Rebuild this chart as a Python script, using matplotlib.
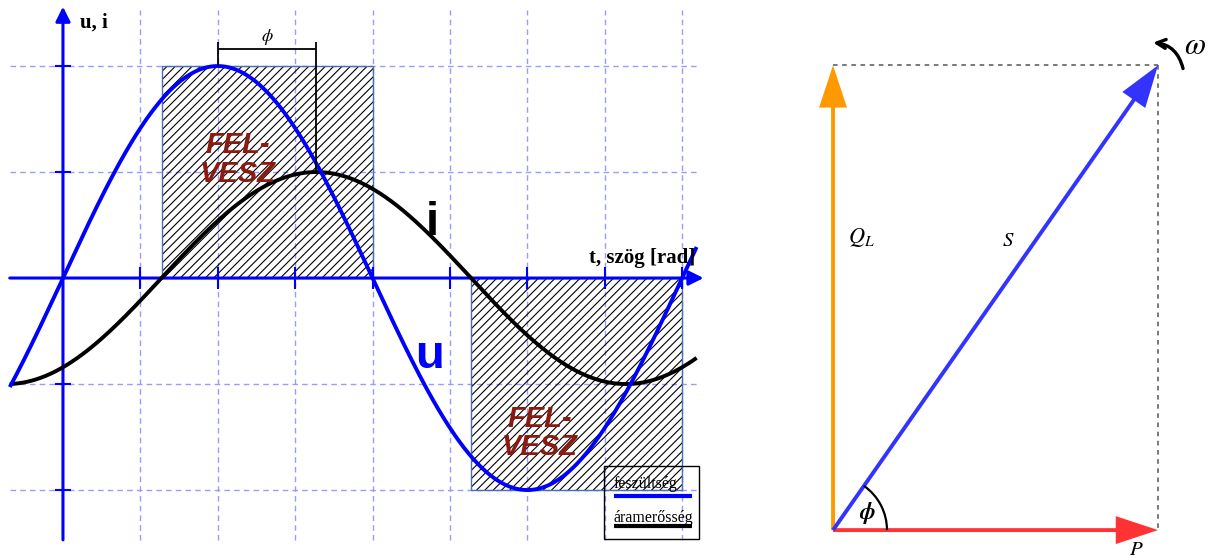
import numpy as np
import matplotlib.pyplot as plt
from matplotlib.patches import Rectangle, Arc

plt.rcParams["mathtext.fontset"] = "stix"
plt.rcParams["hatch.linewidth"] = 0.8

# waveforms: u = U sin(t), i = I sin(t - phi), grid step pi/4 rad
U_AMP = 2.0
I_AMP = 1.0
PHI = 1.0
STEP = np.pi / 4
T_START, T_END = -0.54, 6.43

# power triangle
P = 1.0
Q_L = 1.43

AXIS_LABELS = ["t, szög [rad]", "u, i"]
WAVE_LABELS = ["u", "i"]
LEGEND_LABELS = ["feszültség", "áramerősség"]
REGION_LABEL = ["FEL-", "VESZ"]

AX_BLUE = "#0000ff"
GRID_BLUE = "#9a9aff"
REGION_RED = "#8b1a10"
SERIF = ["Liberation Serif", "DejaVu Serif"]
SANS = ["Liberation Sans", "DejaVu Sans"]

fig = plt.figure(figsize=(12.1, 5.6), dpi=100)

# ---------------- left: time diagram ----------------
ax = fig.add_axes([0, 0, 705 / 1210, 1])
ax.set_xlim(-0.639, 6.515)
ax.set_ylim(-2.660, 2.623)
ax.set_axis_off()

grid_kw = dict(color=GRID_BLUE, lw=1.0, linestyles=(0, (4, 3)), zorder=1)
ax.vlines(np.arange(1, 9) * STEP, -2.47, 2.53, **grid_kw)
ax.hlines([-2 * I_AMP, -I_AMP, I_AMP, 2 * I_AMP], T_START, T_END, **grid_kw)

# hatched regions between the current and voltage zero crossings
for start, h in [(PHI, U_AMP), (np.pi + PHI, -U_AMP)]:
    ax.add_patch(Rectangle((start, 0), np.pi - PHI, h, fill=False, hatch="////",
                           edgecolor="black", lw=0, zorder=2))
    ax.add_patch(Rectangle((start, 0), np.pi - PHI, h, fill=False,
                           edgecolor="#4a6fb5", lw=1.0, zorder=2))

t = np.linspace(T_START, T_END, 800)
u = U_AMP * np.sin(t)
i = I_AMP * np.sin(t - PHI)
ax.plot(t, i, color="black", lw=2.8, zorder=4, solid_capstyle="butt")
ax.plot(t, u, color=AX_BLUE, lw=2.8, zorder=5, solid_capstyle="butt")

# axes with arrows and ticks
arrow_kw = dict(arrowstyle="-|>", color=AX_BLUE, lw=2.2, mutation_scale=22,
                shrinkA=0, shrinkB=0)
ax.annotate("", xy=(6.50, 0), xytext=(T_START, 0), arrowprops=arrow_kw, zorder=3)
ax.annotate("", xy=(0, 2.56), xytext=(0, -2.47), arrowprops=arrow_kw, zorder=3)
ax.vlines(np.arange(1, 9) * STEP, -0.1, 0.1, color=AX_BLUE, lw=1.5, zorder=3)
ax.hlines([-2, -1, 1, 2], -0.08, 0.08, color=AX_BLUE, lw=1.5, zorder=3)

ax.text(6.413, 0.142, AXIS_LABELS[0], ha="right", va="baseline", fontsize=15,
        fontweight="bold", family=SERIF, zorder=6)
ax.text(0.172, 2.358, AXIS_LABELS[1], ha="left", va="baseline", fontsize=15,
        fontweight="bold", family=SERIF, zorder=6)

ax.text(3.724, -0.849, WAVE_LABELS[0], ha="center", va="baseline", fontsize=34,
        fontweight="bold", family=SANS, color=AX_BLUE, zorder=6)
ax.text(3.744, 0.406, WAVE_LABELS[1], ha="center", va="baseline", fontsize=34,
        fontweight="bold", family=SANS, color="black", zorder=6)

for x, y0, y1 in [(1.776, 1.179, 0.906), (4.840, -1.406, -1.670)]:
    for y, s in zip([y0, y1], REGION_LABEL):
        ax.text(x, y, s, ha="center", va="baseline", fontsize=21,
                fontweight="bold", style="italic", family=SANS,
                color=REGION_RED, zorder=6)

# phase shift bracket
peak_u = np.pi / 2
ax.hlines(2.160, peak_u, peak_u + PHI, color="black", lw=1.3, zorder=6)
ax.vlines(peak_u, U_AMP, 2.226, color="black", lw=1.3, zorder=6)
ax.vlines(peak_u + PHI, I_AMP, 2.226, color="black", lw=1.3, zorder=6)
ax.text(peak_u + PHI / 2, 2.27, r"$\phi$", ha="center", va="center",
        fontsize=13, zorder=6)

# legend
ax.add_patch(Rectangle((5.490, -2.462), 0.964, 0.688, fill=False,
                       edgecolor="black", lw=1.0, zorder=6))
for (y_txt, y_line, color), label in zip(
        [(-1.981, -2.057, AX_BLUE), (-2.302, -2.340, "black")], LEGEND_LABELS):
    ax.text(5.591, y_txt, label, ha="left", va="baseline", fontsize=11.5,
            family=SERIF, zorder=7)
    ax.hlines(y_line, 5.591, 6.383, color=color, lw=3.0, zorder=7)

# ---------------- right: power triangle ----------------
bx = fig.add_axes([705 / 1210, 0, 505 / 1210, 1])
bx.set_xlim(-0.394, 1.160)
bx.set_ylim(-0.092, 1.631)
bx.set_axis_off()

dash = dict(color="#555555", lw=1.1, ls=(0, (3, 3)), zorder=1)
bx.plot([0, P], [Q_L, Q_L], **dash)
bx.plot([P, P], [Q_L, 0], **dash)

head = dict(width=0.012, head_width=0.086, head_length=0.13,
            length_includes_head=True, lw=0, zorder=3)
bx.arrow(0, 0, 0, Q_L, color="#ff9900", **head)
bx.arrow(0, 0, P, 0, color="#ff3333", **head)
bx.arrow(0, 0, P, Q_L, color="#3333ff", **head)

angle = np.degrees(np.arctan2(Q_L, P))
bx.add_patch(Arc((0, 0), 0.332, 0.332, theta1=0, theta2=angle,
                 color="black", lw=1.6, zorder=4))
bx.text(0.105, 0.052, r"$\boldsymbol{\phi}$", ha="center", va="center",
        fontsize=17, zorder=5)

bx.text(0.046, 0.90, r"$Q_L$", ha="left", va="center", fontsize=16)
bx.text(0.538, 0.892, r"$S$", ha="center", va="center", fontsize=15)
bx.text(0.932, -0.058, r"$P$", ha="center", va="center", fontsize=15)

bx.annotate("", xy=(0.985, 1.500), xytext=(1.077, 1.420),
            arrowprops=dict(arrowstyle="->", color="black", lw=2.4,
                            mutation_scale=16, shrinkA=0, shrinkB=0,
                            connectionstyle="arc3,rad=0.35"))
bx.text(1.114, 1.492, r"$\omega$", ha="center", va="center", fontsize=22)

fig.savefig("out.png", dpi=100)
